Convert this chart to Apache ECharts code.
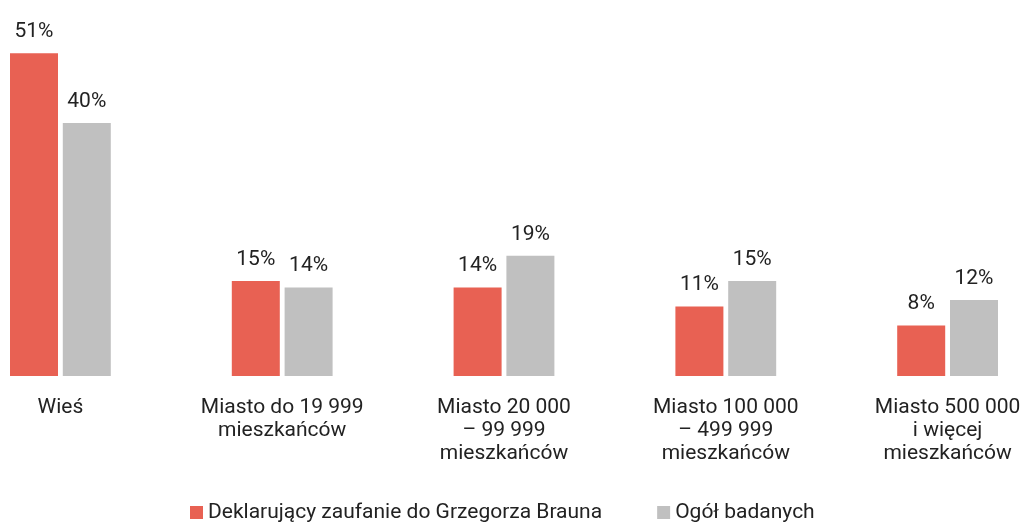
<!DOCTYPE html>
<html>
<head>
<meta charset="utf-8">
<script src="https://cdn.jsdelivr.net/npm/echarts@6/dist/echarts.min.js"></script>
<style>
  html, body { margin: 0; padding: 0; background: #fff; }
  #chart { width: 1023px; height: 523px; }
</style>
</head>
<body>
<div id="chart"></div>
<script>
  // kategorie i dane
  const categories = [
    "Wieś",
    "Miasto do 19 999\nmieszkańców",
    "Miasto 20 000\n– 99 999\nmieszkańców",
    "Miasto 100 000\n– 499 999\nmieszkańców",
    "Miasto 500 000\ni więcej\nmieszkańców"
  ];
  const braunData = [51, 15, 14, 11, 8];
  const ogolData = [40, 14, 19, 15, 12];
  const seriesNames = ["Deklarujący zaufanie do Grzegorza Brauna", "Ogół badanych"];

  const chart = echarts.init(document.getElementById("chart"));
  const font = "Roboto";

  const labelStyle = {
    show: true,
    position: "top",
    distance: 11,
    formatter: "{c}%",
    color: "#222",
    fontFamily: font,
    fontSize: 21
  };

  chart.setOption({
    animation: false,
    textStyle: { fontFamily: font },
    legend: {
      left: 190,
      top: 502,
      padding: 0,
      icon: "rect",
      itemWidth: 13,
      itemHeight: 13,
      itemGap: 55,
      textStyle: { color: "#222", fontSize: 21, fontFamily: font },
      data: seriesNames
    },
    grid: {
      left: -50.5,
      right: -35.5,
      top: 28,
      bottom: 147,
      outerBoundsMode: "none",
      containLabel: false
    },
    xAxis: {
      type: "category",
      data: categories,
      axisLine: { show: false },
      axisTick: { show: false },
      axisLabel: {
        color: "#222",
        fontSize: 21,
        fontFamily: font,
        lineHeight: 23,
        margin: 20,
        interval: 0,
        hideOverlap: false
      }
    },
    yAxis: {
      type: "value",
      min: 0,
      max: 55,
      show: false
    },
    series: [
      {
        name: seriesNames[0],
        type: "bar",
        data: braunData,
        barWidth: 48,
        barGap: "10%",
        itemStyle: { color: "#E86153" },
        label: labelStyle
      },
      {
        name: seriesNames[1],
        type: "bar",
        data: ogolData,
        barWidth: 48,
        itemStyle: { color: "#C0C0C0" },
        label: labelStyle
      }
    ]
  });
</script>
</body>
</html>
